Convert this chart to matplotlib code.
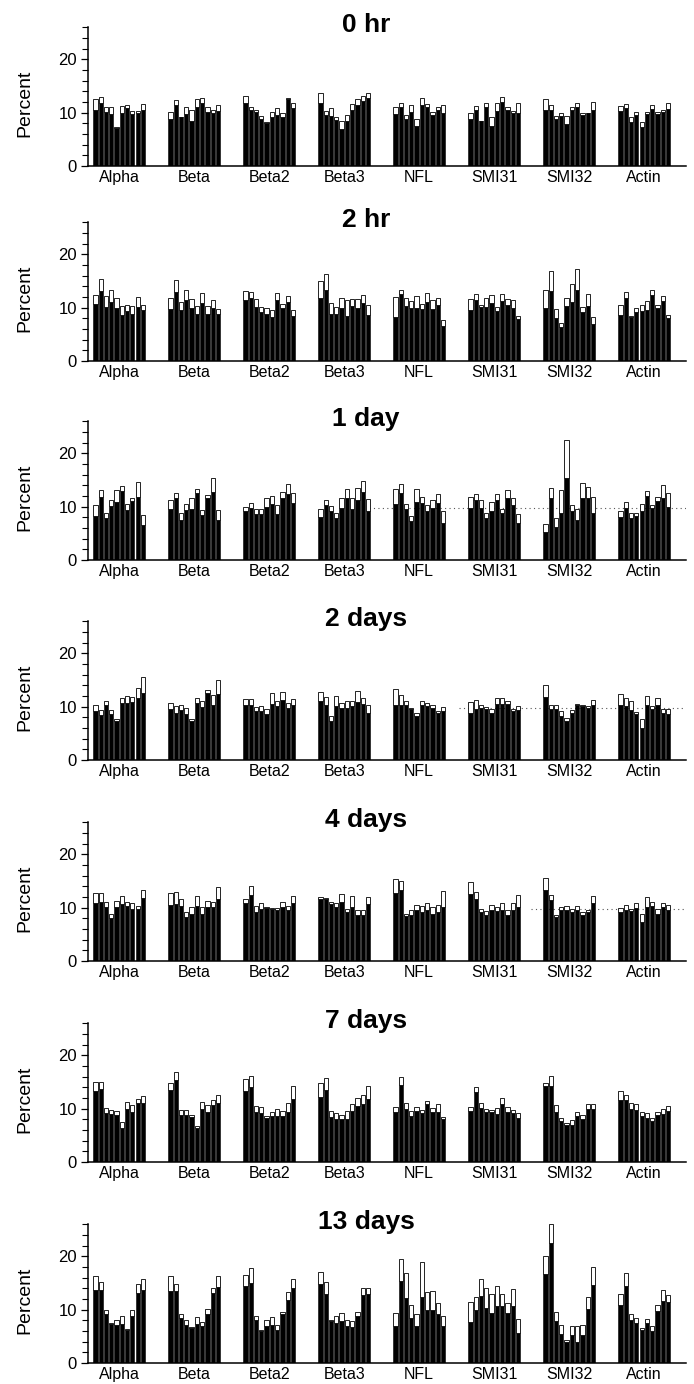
import numpy as np
import matplotlib
matplotlib.use("Agg")
import matplotlib.pyplot as plt
from matplotlib.ticker import FixedLocator

plt.rcParams['font.family'] = ['Liberation Sans', 'DejaVu Sans']

groups = ["Alpha", "Beta", "Beta2", "Beta3", "NFL", "SMI31", "SMI32", "Actin"]
titles = ["0 hr", "2 hr", "1 day", "2 days", "4 days", "7 days", "13 days"]

# Each panel: black bar top (mean) and white-cap top (mean + SE), 10 bars per group
t0_mean = [
    [10.6, 11.9, 10.1, 9.7, 7.2, 9.9, 10.9, 9.7, 9.9, 10.5],
    [8.9, 11.4, 9.1, 9.75, 8.5, 11.1, 11.75, 10.1, 10.0, 10.25],
    [11.9, 10.5, 10.1, 8.9, 8.0, 9.25, 9.6, 9.1, 12.5, 10.8],
    [11.8, 9.5, 9.4, 8.6, 6.9, 8.4, 10.6, 11.4, 12.2, 12.7],
    [9.7, 11.0, 8.9, 10.2, 7.5, 11.4, 11.0, 9.6, 10.5, 10.0],
    [8.8, 10.6, 8.4, 11.0, 7.5, 10.4, 12.1, 10.5, 10.0, 10.0],
    [10.6, 10.5, 8.9, 9.4, 7.9, 10.6, 11.0, 9.6, 9.9, 10.5],
    [10.3, 10.8, 8.3, 9.6, 7.4, 9.7, 10.75, 9.7, 10.1, 10.75],
]
t0_top = [
    [12.6, 13.0, 11.0, 11.1, 7.4, 11.2, 11.4, 10.3, 10.4, 11.7],
    [10.1, 12.4, 9.2, 11.0, 10.5, 12.6, 12.8, 11.0, 10.5, 11.4],
    [13.2, 11.1, 10.5, 9.4, 8.2, 10.1, 10.8, 9.9, 12.7, 11.75],
    [13.7, 10.3, 10.8, 9.2, 8.4, 9.55, 11.6, 12.5, 13.2, 13.7],
    [11.0, 11.9, 9.6, 11.4, 8.9, 12.7, 11.6, 10.2, 11.0, 11.4],
    [9.9, 11.25, 8.5, 11.75, 9.1, 11.75, 12.9, 11.0, 10.4, 11.9],
    [12.5, 11.4, 9.4, 10.0, 9.4, 11.0, 11.75, 10.0, 10.0, 12.1],
    [11.25, 11.6, 9.1, 10.1, 8.3, 10.2, 11.4, 10.2, 10.6, 11.9],
]

t2h_mean = [
    [10.7, 13.2, 10.2, 11.1, 9.9, 8.6, 9.4, 8.75, 10.2, 9.6],
    [9.75, 13.0, 9.6, 11.4, 9.9, 8.9, 10.9, 8.9, 10.0, 8.9],
    [11.4, 11.9, 10.2, 9.25, 8.9, 8.3, 11.4, 9.9, 11.1, 8.5],
    [11.75, 13.3, 8.9, 8.75, 9.9, 8.5, 10.3, 10.0, 10.9, 8.6],
    [8.25, 12.5, 10.3, 10.0, 9.9, 9.7, 11.1, 9.7, 10.6, 6.6],
    [9.5, 11.4, 10.1, 10.1, 10.9, 9.4, 11.25, 10.6, 10.0, 7.8],
    [10.0, 13.1, 8.1, 6.4, 10.3, 11.1, 13.3, 9.25, 10.4, 7.0],
    [8.6, 11.75, 8.25, 9.25, 9.4, 9.5, 12.3, 10.0, 11.25, 8.0],
]
t2h_top = [
    [12.4, 15.4, 12.25, 13.4, 11.9, 10.3, 10.5, 10.3, 12.1, 10.5],
    [11.75, 15.2, 11.0, 13.25, 11.6, 10.3, 12.7, 10.3, 11.4, 9.75],
    [13.2, 13.0, 11.6, 10.1, 9.9, 9.6, 12.7, 10.7, 12.2, 9.6],
    [15.0, 16.25, 10.8, 10.2, 11.9, 11.4, 11.6, 11.6, 12.4, 10.6],
    [12.0, 13.4, 11.9, 11.25, 12.2, 10.75, 12.8, 11.4, 11.75, 7.6],
    [11.6, 12.6, 10.6, 11.9, 12.4, 10.1, 12.6, 11.7, 11.4, 8.4],
    [13.4, 16.9, 9.7, 7.2, 11.75, 14.5, 17.2, 10.1, 12.5, 8.3],
    [10.6, 13.0, 8.4, 10.0, 10.5, 11.25, 13.4, 10.5, 12.2, 8.6],
]

t1d_mean = [
    [8.25, 11.9, 7.8, 10.1, 10.9, 12.9, 9.4, 11.1, 11.9, 6.6],
    [9.5, 11.6, 7.5, 9.4, 9.6, 12.5, 8.4, 11.6, 12.8, 7.5],
    [9.1, 9.7, 8.6, 8.6, 10.0, 10.6, 8.6, 11.6, 12.3, 10.75],
    [8.0, 10.3, 9.1, 7.9, 9.7, 11.6, 9.5, 11.25, 12.8, 9.1],
    [10.6, 12.5, 9.5, 7.3, 10.8, 10.75, 9.1, 9.8, 10.75, 6.9],
    [9.8, 11.25, 9.7, 7.9, 9.2, 11.25, 8.75, 11.6, 10.3, 6.9],
    [5.2, 11.7, 6.1, 8.75, 15.3, 9.2, 7.5, 11.7, 11.7, 8.9],
    [8.1, 9.8, 7.9, 8.3, 9.1, 12.1, 9.7, 11.1, 11.6, 10.0],
]
t1d_top = [
    [10.3, 13.1, 8.75, 11.25, 13.1, 13.9, 10.6, 11.6, 14.6, 8.4],
    [11.25, 12.5, 8.75, 10.6, 11.6, 13.4, 9.4, 12.2, 15.3, 9.4],
    [10.0, 10.75, 9.6, 9.6, 11.6, 12.0, 10.3, 12.7, 14.2, 12.5],
    [9.6, 11.25, 10.2, 8.75, 11.6, 13.3, 11.6, 13.6, 14.8, 11.4],
    [13.3, 14.2, 10.6, 8.3, 13.4, 11.75, 10.4, 11.25, 12.4, 9.2],
    [11.9, 12.3, 11.25, 8.75, 10.9, 12.3, 9.6, 13.1, 11.6, 8.6],
    [6.7, 13.6, 7.8, 13.1, 22.5, 10.4, 9.6, 14.4, 13.75, 11.75],
    [9.2, 10.9, 8.75, 8.75, 10.5, 13.0, 10.4, 11.9, 14.1, 12.5],
]

t2d_mean = [
    [9.2, 8.4, 10.3, 8.55, 7.4, 10.75, 10.75, 10.9, 11.7, 12.6],
    [9.5, 8.9, 9.3, 8.7, 7.4, 10.75, 10.0, 12.5, 10.3, 12.3],
    [10.4, 10.4, 9.2, 9.2, 8.55, 10.6, 10.1, 11.2, 9.8, 10.4],
    [11.1, 10.3, 7.4, 10.1, 9.8, 9.8, 10.1, 10.9, 10.6, 8.9],
    [10.4, 10.3, 10.3, 9.5, 8.2, 10.3, 10.1, 9.8, 8.9, 9.2],
    [8.9, 9.5, 9.8, 9.5, 8.9, 10.6, 10.6, 10.6, 9.1, 9.3],
    [11.8, 9.5, 9.5, 8.2, 7.4, 8.9, 10.3, 10.1, 9.8, 10.3],
    [10.4, 10.1, 9.3, 8.55, 6.0, 10.3, 9.5, 10.3, 8.9, 8.55],
]
t2d_top = [
    [10.4, 9.3, 11.1, 9.3, 7.6, 11.7, 12.0, 11.8, 13.6, 15.6],
    [10.75, 10.1, 10.3, 9.8, 7.6, 11.7, 11.1, 13.1, 12.2, 15.1],
    [11.4, 11.4, 9.9, 10.1, 9.5, 12.5, 11.1, 12.75, 10.75, 11.4],
    [12.8, 11.8, 8.2, 12.1, 10.75, 11.1, 11.1, 13.0, 11.6, 10.4],
    [13.3, 12.2, 11.1, 9.8, 8.9, 11.1, 10.75, 10.4, 9.2, 9.9],
    [10.9, 11.2, 10.3, 10.0, 9.5, 11.6, 11.6, 11.1, 9.5, 10.1],
    [14.0, 10.4, 10.4, 9.2, 7.9, 9.4, 10.6, 10.4, 10.1, 11.2],
    [12.3, 11.7, 11.1, 9.0, 7.6, 12.0, 10.1, 11.7, 9.5, 9.5],
]

t4d_mean = [
    [10.85, 11.0, 10.1, 8.0, 10.1, 10.7, 10.25, 9.8, 9.8, 11.8],
    [10.6, 10.7, 10.4, 8.3, 8.9, 10.4, 8.9, 10.1, 10.1, 11.65],
    [10.85, 12.4, 9.2, 9.8, 10.0, 9.8, 9.6, 10.1, 9.5, 10.85],
    [11.65, 11.65, 10.7, 10.1, 11.0, 9.2, 10.1, 8.6, 8.6, 10.7],
    [12.7, 13.3, 8.4, 8.6, 9.5, 9.2, 9.5, 8.9, 9.2, 10.1],
    [12.6, 11.65, 9.2, 8.6, 9.6, 9.4, 9.5, 8.6, 9.6, 10.1],
    [13.3, 11.5, 8.3, 9.6, 9.5, 9.2, 9.5, 8.6, 9.2, 10.85],
    [9.2, 9.6, 9.4, 10.0, 7.4, 10.1, 10.25, 8.9, 10.1, 9.6],
]
t4d_top = [
    [12.7, 12.7, 11.0, 8.9, 11.3, 12.25, 11.0, 10.85, 10.25, 13.3],
    [12.7, 12.9, 11.65, 9.2, 10.1, 12.25, 10.1, 11.3, 11.0, 13.8],
    [11.7, 14.1, 10.4, 10.85, 10.2, 10.0, 10.0, 11.0, 10.4, 12.25],
    [11.95, 11.8, 11.0, 10.85, 12.6, 9.8, 12.25, 9.6, 9.6, 11.95],
    [15.3, 15.0, 8.9, 9.6, 10.6, 10.25, 10.85, 10.1, 10.6, 13.2],
    [14.9, 12.9, 9.8, 9.4, 10.6, 10.1, 10.85, 9.6, 10.85, 12.4],
    [15.5, 12.4, 8.6, 10.1, 10.25, 9.8, 10.25, 9.2, 9.6, 12.25],
    [10.0, 10.6, 9.8, 10.85, 8.9, 11.95, 11.0, 9.8, 10.85, 10.6],
]

t7d_mean = [
    [13.4, 13.7, 9.1, 9.0, 8.9, 6.4, 9.9, 9.3, 11.0, 11.1],
    [13.5, 15.4, 8.8, 8.9, 8.4, 6.4, 10.0, 9.3, 10.7, 11.1],
    [13.3, 14.0, 9.3, 9.2, 8.2, 8.6, 8.7, 8.6, 9.4, 11.9],
    [12.2, 13.5, 8.5, 8.1, 8.0, 8.1, 9.5, 10.6, 10.9, 11.8],
    [9.3, 14.4, 10.0, 8.7, 9.5, 9.1, 10.8, 9.3, 9.4, 8.0],
    [9.5, 13.2, 10.2, 9.3, 9.3, 9.0, 10.8, 9.4, 9.1, 8.3],
    [14.2, 14.3, 9.3, 7.6, 6.9, 7.0, 8.6, 8.0, 9.9, 9.9],
    [11.6, 11.7, 10.0, 9.8, 8.7, 8.2, 7.6, 8.9, 9.0, 9.5],
]
t7d_top = [
    [15.1, 15.1, 10.1, 9.8, 9.6, 7.5, 11.2, 10.7, 11.9, 12.4],
    [14.9, 16.8, 9.8, 9.8, 8.8, 6.8, 11.3, 10.7, 11.6, 12.6],
    [15.6, 16.2, 10.5, 10.3, 8.7, 9.4, 9.9, 9.5, 11.1, 14.2],
    [14.8, 15.8, 9.6, 9.1, 8.9, 9.6, 10.9, 12.1, 12.5, 14.2],
    [10.3, 16.0, 11.1, 9.6, 10.3, 9.8, 11.5, 10.2, 10.8, 8.5],
    [10.3, 14.1, 11.0, 10.0, 9.8, 10.2, 12.0, 10.4, 9.8, 9.1],
    [14.8, 16.1, 10.7, 8.3, 7.3, 7.9, 9.3, 8.9, 10.9, 10.9],
    [13.4, 12.6, 11.1, 10.8, 9.3, 9.2, 8.2, 9.4, 9.9, 10.6],
]

t13d_mean = [
    [13.75, 13.75, 9.1, 7.25, 7.1, 7.4, 6.25, 8.9, 13.1, 13.75],
    [13.6, 13.6, 8.4, 7.1, 6.6, 7.25, 6.9, 9.1, 13.1, 14.25],
    [14.4, 15.0, 8.1, 6.0, 6.9, 7.1, 6.1, 9.1, 11.9, 14.1],
    [14.8, 13.0, 7.8, 7.45, 7.95, 7.0, 6.8, 8.8, 12.7, 13.0],
    [7.0, 15.3, 12.2, 8.5, 7.0, 12.4, 9.9, 9.9, 9.1, 6.9],
    [7.7, 10.0, 12.5, 10.4, 9.4, 10.7, 10.7, 9.4, 10.7, 5.7],
    [16.7, 22.5, 7.9, 5.4, 4.0, 5.3, 4.0, 5.3, 10.1, 14.7],
    [10.8, 14.5, 8.1, 7.45, 6.2, 7.45, 6.0, 9.75, 11.6, 11.4],
]
t13d_top = [
    [16.3, 15.2, 9.9, 7.5, 8.0, 8.9, 6.4, 9.9, 14.75, 15.8],
    [16.3, 14.9, 9.25, 8.0, 6.75, 8.6, 7.7, 10.2, 14.1, 16.3],
    [16.6, 17.9, 8.75, 6.1, 8.0, 8.6, 7.1, 9.6, 13.3, 15.8],
    [17.1, 15.2, 8.1, 8.8, 9.3, 8.1, 7.8, 9.6, 14.1, 14.0],
    [9.4, 19.6, 16.8, 10.8, 9.2, 18.9, 13.4, 13.6, 11.2, 8.8],
    [11.5, 12.4, 15.8, 14.1, 12.9, 14.4, 12.9, 11.3, 13.8, 8.3],
    [20.0, 26.0, 9.6, 7.1, 4.3, 7.0, 7.0, 7.1, 12.4, 18.0],
    [12.9, 16.9, 9.25, 8.5, 6.5, 8.3, 7.0, 10.8, 13.7, 12.7],
]

panels_mean = [t0_mean, t2h_mean, t1d_mean, t2d_mean, t4d_mean, t7d_mean, t13d_mean]
panels_top = [t0_top, t2h_top, t1d_top, t2d_top, t4d_top, t7d_top, t13d_top]

# reference dotted line (start fraction of axes width) for some panels
ref_lines = {2: 0.47, 3: 0.62, 4: 0.74}
ref_level = 9.7

W, H = 694, 1384
fig = plt.figure(figsize=(W / 100, H / 100), dpi=100)

zeros_px = [166, 361, 560, 760, 961, 1162, 1363]
ax_left_px, ax_right_px = 88, 686
ymax = 26.3
px_per_unit = 5.33
ax_h_px = ymax * px_per_unit

group_pitch = 14.2
n_per = 10
bw = 0.8

for k, (means, tops) in enumerate(zip(panels_mean, panels_top)):
    z = zeros_px[k]
    ax = fig.add_axes([ax_left_px / W, 1 - z / H, (ax_right_px - ax_left_px) / W, ax_h_px / H])
    for g, gname in enumerate(groups):
        x = g * group_pitch + np.arange(n_per)
        m = np.array(means[g])
        t = np.array(tops[g])
        ax.bar(x, m, width=bw, color='black', edgecolor='black', linewidth=0.4, zorder=3)
        ax.bar(x, t - m, bottom=m, width=bw, color='white', edgecolor='black', linewidth=0.6, zorder=3)
    if k in ref_lines:
        ax.axhline(ref_level, xmin=ref_lines[k], xmax=1.0, color='#555555', linestyle=(0, (1, 3)),
                   linewidth=0.8, zorder=1)
    ax.set_xlim(-1.4, 7 * group_pitch + 9 + 3.4)
    ax.set_ylim(0, ymax)
    ax.spines['top'].set_visible(False)
    ax.spines['right'].set_visible(False)
    ax.spines['left'].set_bounds(0, 26)
    ax.spines['left'].set_linewidth(1.1)
    ax.spines['bottom'].set_linewidth(1.1)
    ax.set_xticks([g * group_pitch + 4.5 for g in range(len(groups))])
    ax.set_xticklabels(groups, fontsize=11.5)
    ax.tick_params(axis='x', length=0, pad=3)
    ax.yaxis.set_major_locator(FixedLocator([0, 10, 20]))
    ax.yaxis.set_minor_locator(FixedLocator([2, 4, 6, 8, 12, 14, 16, 18, 22, 24, 26]))
    ax.set_yticklabels(['0', '10', '20'], fontsize=12)
    ax.tick_params(axis='y', which='major', length=5, width=0.9, pad=3)
    ax.tick_params(axis='y', which='minor', length=4, width=0.8)
    ax.patch.set_alpha(0)
    fig.text(366 / W, 1 - (z - 134) / H, titles[k], fontsize=19, fontweight='bold',
             ha='center', va='baseline')
    fig.text(25 / W, 1 - (z - 63) / H, 'Percent', fontsize=14, rotation=90,
             ha='center', va='center')

fig.savefig('out.png', dpi=100)
